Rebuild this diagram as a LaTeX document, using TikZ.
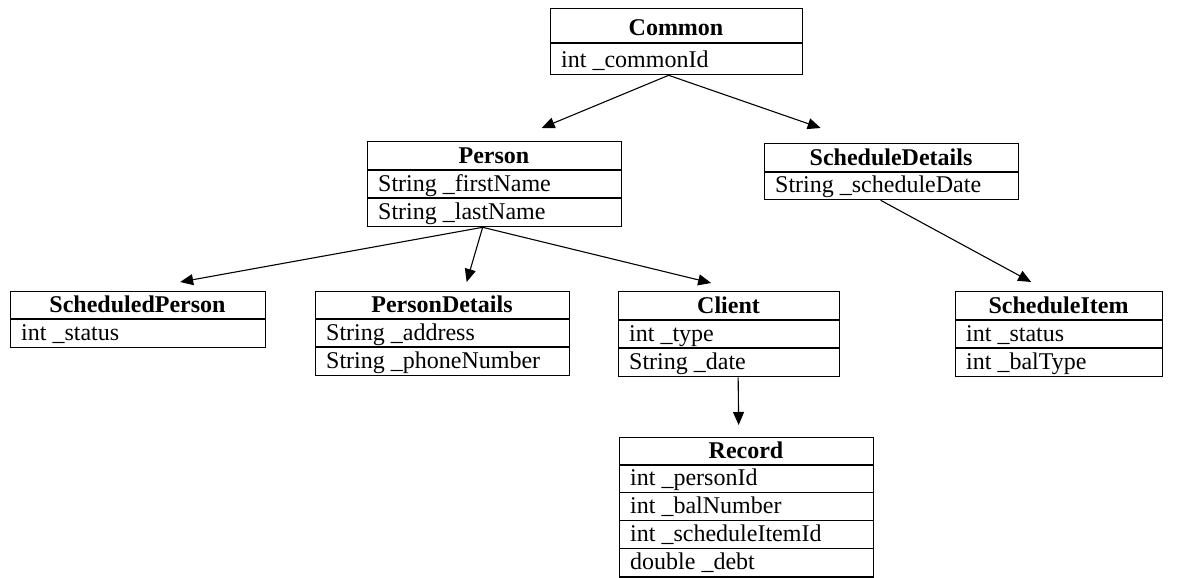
\documentclass[tikz,border=0pt]{standalone}
\usepackage{fontspec}
\setmainfont{Liberation Serif}
\usetikzlibrary{arrows.meta}

\tikzset{
  x=1pt, y=-1pt,
  frame/.style={draw, line width=1.3pt, anchor=north west, inner sep=0pt},
  divider/.style={line width=1.3pt},
  classtitle/.style={font=\fontsize{24}{24}\selectfont\bfseries, anchor=base, inner sep=0pt},
  field/.style={font=\fontsize{24}{24}\selectfont, anchor=base west, inner sep=0pt},
  link/.style={-{Triangle[length=13pt,width=11pt]}, line width=1.1pt},
}

% #1 name, #2 left, #3 top, #4 width, #5 header height, #6 row height, #7 title, #8 fields
\newcommand\classbox[8]{%
  \gdef\rowcount{0}%
  \foreach \f in {#8} {\xdef\rowcount{\the\numexpr\rowcount+1\relax}}%
  \pgfmathsetmacro\boxheight{#5+\rowcount*#6}%
  \node[frame, minimum width=#4pt, minimum height=\boxheight pt] (#1) at (#2,#3) {};
  \node[classtitle] (#1-title) at ({#2+#4/2},{#3+#5-7}) {#7};
  \foreach[count=\i] \f in {#8} {
    \draw[divider] (#2,{#3+#5+(\i-1)*#6}) -- ++(#4,0);
    \node[field] (#1-f\i) at ({#2+11},{#3+#5+\i*#6-7}) {\f};
  }%
}

\begin{document}
\begin{tikzpicture}
  \useasboundingbox (0,0) rectangle (1202,578);

  \classbox{common}{550}{8}{252}{35}{31}{Common}{int \_commonId}
  \classbox{person}{367}{141}{254}{29}{28}{Person}{String \_firstName, String \_lastName}
  \classbox{sched}{764}{143}{254}{29}{27}{ScheduleDetails}{String \_scheduleDate}
  \classbox{sperson}{10}{291}{255}{28}{28}{ScheduledPerson}{int \_status}
  \classbox{pdetails}{315}{291}{254}{28}{28}{PersonDetails}{String \_address, String \_phoneNumber}
  \classbox{client}{618}{291}{221}{29}{28}{Client}{int \_type, String \_date}
  \classbox{item}{955}{291}{207}{29}{28}{ScheduleItem}{int \_status, int \_balType}
  \classbox{record}{619}{437}{254}{28}{27.8}{Record}{int \_personId, int \_balNumber, int \_scheduleItemId, double \_debt}

  % inheritance links
  \draw[link] ([xshift=-8pt]common.south) -- ([shift={(47pt,13pt)}]person.north);
  \draw[link] ([xshift=-8pt]common.south) -- ([shift={(-71pt,15pt)}]sched.north);
  \draw[link] ([xshift=-12pt]person.south) -- ([shift={(42pt,9pt)}]sperson.north);
  \draw[link] ([xshift=-12pt]person.south) -- ([shift={(24pt,9pt)}]pdetails.north);
  \draw[link] ([xshift=-12pt]person.south) -- ([shift={(-18pt,8pt)}]client.north);
  \draw[link] ([xshift=9pt]client.south) -- ([shift={(-8pt,12pt)}]record.north);
  \draw[link] ([xshift=-11pt]sched.south) -- ([shift={(-28pt,9pt)}]item.north);
\end{tikzpicture}
\end{document}
